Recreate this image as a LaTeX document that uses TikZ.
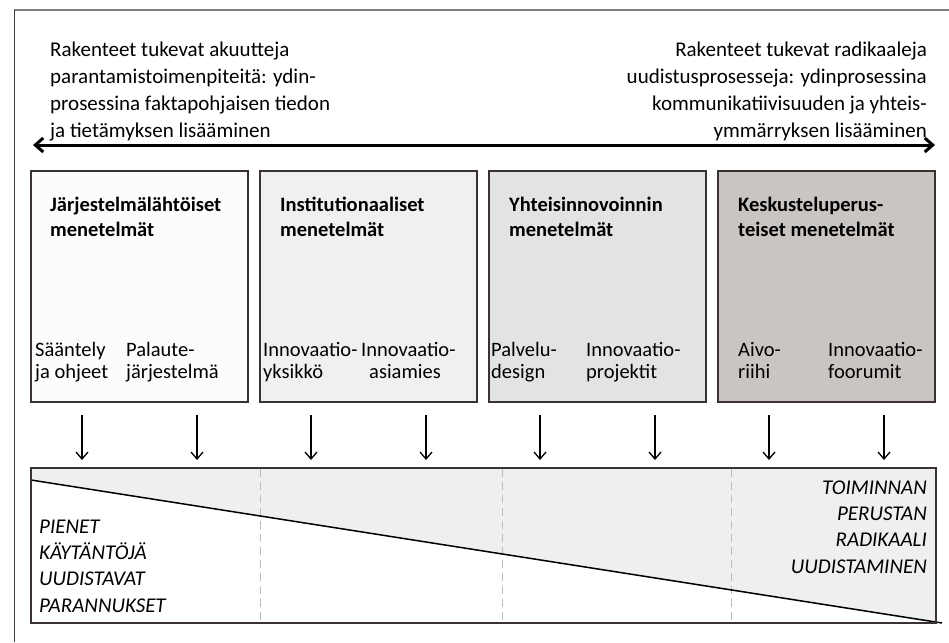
\documentclass[tikz,border=0pt]{standalone}
\usepackage{fontspec}
\setmainfont{Carlito}
\usetikzlibrary{arrows.meta}

\definecolor{framegray}{HTML}{7F7F7F}
\definecolor{frameleft}{HTML}{3F3F3F}
\definecolor{edge}{HTML}{3A3232}
\definecolor{fillA}{HTML}{FCFCFC}
\definecolor{fillB}{HTML}{F0F0F0}
\definecolor{fillC}{HTML}{E3E3E3}
\definecolor{fillD}{HTML}{C9C5C3}
\definecolor{wedge}{HTML}{EFEFEF}
\definecolor{divider}{HTML}{BDBDBD}

\begin{document}
\begin{tikzpicture}[x=1pt,y=-1pt,
  methodbox/.style={draw=edge, line width=1.2pt, minimum width=217pt,
    minimum height=231pt, inner sep=0pt, outer sep=0pt, anchor=north west},
  headtext/.style={font=\fontsize{21}{27}\selectfont, inner sep=0pt},
  titletext/.style={font=\fontsize{20.5}{25}\selectfont\bfseries, align=left,
    anchor=base west, inner sep=0pt},
  itemtext/.style={font=\fontsize{20.5}{22}\selectfont, align=left,
    anchor=base west, inner sep=0pt},
  scaletext/.style={font=\fontsize{21}{26.3}\selectfont\itshape, inner sep=0pt},
  downarrow/.style={line width=1.3pt, -{Straight Barb[length=7pt,width=12pt]}},
  axisarrow/.style={line width=3pt,
    {Straight Barb[length=8pt,width=14pt]}-{Straight Barb[length=8pt,width=14pt]}},
  divline/.style={divider, line width=1pt, dash pattern=on 8pt off 5pt},
]
\useasboundingbox (0,0) rectangle (949,642);

% outer frame (top and left edges)
\draw[framegray, line width=1.6pt] (14,10) -- (949,10);
\draw[frameleft, line width=1pt] (14,10) -- (14,642);

% heading texts at both ends of the axis (anchored at their last line)
\node[headtext, align=left, anchor=base west] (lefthead) at (50,137)
  {Rakenteet tukevat akuutteja\\parantamistoimenpiteitä: ydin-\\prosessina faktapohjaisen tiedon\\ja tietämyksen lisääminen};
\node[headtext, align=right, anchor=base east] (righthead) at (927,137)
  {Rakenteet tukevat radikaaleja\\uudistusprosesseja: ydinprosessina\\kommunikatiivisuuden ja yhteis-\\ymmärryksen lisääminen};

% two-headed axis
\coordinate (axisL) at (33,145);
\coordinate (axisR) at (935,145);
\draw[axisarrow] (axisL) -- (axisR);

% method groups
\node[methodbox, fill=fillA] (b1) at (31,171) {};
\node[methodbox, fill=fillB] (b2) at (260,171) {};
\node[methodbox, fill=fillC] (b3) at (489,171) {};
\node[methodbox, fill=fillD] (b4) at (718,171) {};

\node[titletext] (t1) at (50,236) {Järjestelmälähtöiset\\menetelmät};
\node[titletext] (t2) at (280,236) {Institutionaaliset\\menetelmät};
\node[titletext] (t3) at (509,236) {Yhteisinnovoinnin\\menetelmät};
\node[titletext] (t4) at (738,236) {Keskusteluperus-\\teiset menetelmät};

\node[itemtext] (i11) at (35,378) {Sääntely\\ja ohjeet};
\node[itemtext] (i12) at (126,378) {Palaute-\\järjestelmä};
\node[itemtext] (i21) at (263,378) {Innovaatio-\\yksikkö};
\node[itemtext] (i22) at (361,378) {Innovaatio-\\\hspace*{8pt}asiamies};
\node[itemtext] (i31) at (491,378) {Palvelu-\\design};
\node[itemtext] (i32) at (586,378) {Innovaatio-\\projektit};
\node[itemtext] (i41) at (738,378) {Aivo-\\riihi};
\node[itemtext] (i42) at (828,378) {Innovaatio-\\foorumit};

% arrows from the methods down to the scale
\foreach \n/\x in {1/82,2/197,3/311,4/426,5/540,6/655,7/769,8/884}{
  \coordinate (as\n) at (\x,415);
  \coordinate (ae\n) at (\x,460);
  \draw[downarrow] (as\n) -- (ae\n);
}

% scale from small improvements to radical renewal
\path (31,468) node[minimum width=905pt, minimum height=155pt, inner sep=0pt,
  outer sep=0pt, anchor=north west] (range) {};
\coordinate (slopeL) at (31,480);
\coordinate (slopeR) at (936,623);
\coordinate (slopeEnd) at (942,623);
\fill[wedge] (range.north west) -- (range.north east) -- (slopeR) -- (slopeL) -- cycle;

\foreach \n/\x in {1/260,2/502,3/731}{
  \coordinate (dt\n) at (\x,469);
  \coordinate (db\n) at (\x,622);
  \draw[divline] (dt\n) -- (db\n);
}

\draw[black, line width=1.5pt] (slopeL) -- (slopeEnd);
\draw[edge, line width=2pt] (range.north west) rectangle (range.south east);

\node[scaletext, align=left, anchor=base west] (small) at (39,612)
  {PIENET\\KÄYTÄNTÖJÄ\\UUDISTAVAT\\PARANNUKSET};
\node[scaletext, align=right, anchor=base east] (radical) at (927,573)
  {TOIMINNAN\\PERUSTAN\\RADIKAALI\\UUDISTAMINEN};
\end{tikzpicture}
\end{document}
